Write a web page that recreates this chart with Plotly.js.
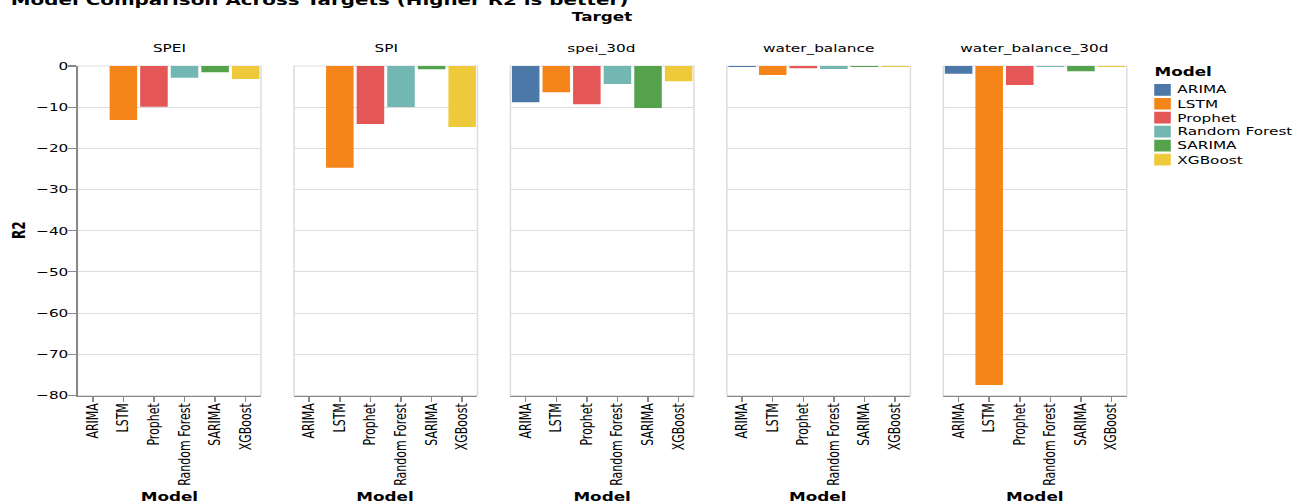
<!DOCTYPE html>
<html>
<head>
<meta charset="utf-8">
<script src="https://cdn.plot.ly/plotly-3.0.1.min.js"></script>
<style>
  html, body { margin: 0; padding: 0; background: #fff; overflow: hidden; }
  #wrap { width: 1293px; height: 504px; overflow: hidden; position: relative; }
  #chart { position: absolute; left: 0; top: 0; transform-origin: 0 0; }
</style>
</head>
<body>
<div id="wrap"><div id="chart"></div></div>
<script>
// ---- data ----
const targets = ["SPEI", "SPI", "spei_30d", "water_balance", "water_balance_30d"];
const models = ["ARIMA", "LSTM", "Prophet", "Random Forest", "SARIMA", "XGBoost"];
const modelColors = ["#4c78a8", "#f58518", "#e45756", "#72b7b2", "#54a24b", "#eeca3b"];
const r2SPEI = [null, -13.1, -9.87, -2.83, -1.54, -3.16];
const r2SPI = [null, -24.68, -14.08, -9.95, -0.81, -14.8];
const r2Spei30d = [-8.82, -6.39, -9.31, -4.37, -10.2, -3.72];
const r2WaterBalance = [-0.15, -2.18, -0.3, -0.73, -0.2, -0.15];
const r2WaterBalance30d = [-1.86, -77.45, -4.61, -0.15, -1.29, -0.1];
const r2ByTarget = [r2SPEI, r2SPI, r2Spei30d, r2WaterBalance, r2WaterBalance30d];
const yTicks = [0, -10, -20, -30, -40, -50, -60, -70, -80];

// ---- page geometry: the chart is laid out at its natural size and stretched to fill the page ----
const SX = 1.529, SY = 1.0983;
const W = 846, H = 459;
const chartDiv = document.getElementById("chart");
chartDiv.style.transform = "scale(" + SX + "," + SY + ")";

// page pixel -> paper fraction
const px = t => t / SX / W;
const py = t => 1 - t / SY / H;

const FONT = "DejaVu Sans";
const panelLeft0 = 77.5, panelStep = 216.45, panelWidth = 183.5;
const plotTop = 66, plotBottom = 395.5;

function label(x, y, text, size, xanchor, extra) {
  return Object.assign({
    xref: "paper", yref: "paper", x: px(x), y: py(y),
    xanchor: xanchor, yanchor: "middle", showarrow: false,
    borderpad: 0, borderwidth: 0,
    text: text, font: { family: FONT, size: size, color: "#000" }
  }, extra || {});
}

const traces = [];
const layout = {
  width: W, height: H,
  margin: { l: 0, r: 0, t: 0, b: 0, pad: 0 },
  paper_bgcolor: "#fff", plot_bgcolor: "#fff",
  showlegend: false,
  bargap: 0.1,
  font: { family: FONT, size: 10, color: "#000" },
  shapes: [], annotations: []
};

targets.forEach((tg, i) => {
  const n = i === 0 ? "" : String(i + 1);
  const L = panelLeft0 + i * panelStep;
  traces.push({
    type: "bar",
    x: models, y: r2ByTarget[i],
    xaxis: "x" + n, yaxis: "y" + n,
    marker: { color: modelColors, line: { width: 0 } },
    hoverinfo: "x+y", name: tg
  });
  layout["xaxis" + n] = {
    domain: [px(L), px(L + panelWidth)],
    anchor: "y" + n,
    type: "category", categoryarray: models, categoryorder: "array",
    range: [-0.5, models.length - 0.5],
    showgrid: false, zeroline: false,
    showline: true, linecolor: "#888", linewidth: 1,
    ticks: "outside", ticklen: 5, tickcolor: "#888", tickwidth: 1,
    ticklabelstandoff: -3,
    tickangle: -90, tickfont: { family: FONT, size: 10, color: "#000" },
    fixedrange: true
  };
  layout["yaxis" + n] = {
    domain: [py(plotBottom), py(plotTop)],
    anchor: "x" + n,
    range: [-80, 0],
    tickvals: yTicks,
    showgrid: true, gridcolor: "#ddd", gridwidth: 1,
    zeroline: false,
    showline: i === 0, linecolor: "#888", linewidth: 1,
    ticks: i === 0 ? "outside" : "", ticklen: 5, tickcolor: "#888", tickwidth: 1,
    ticklabelstandoff: -2,
    showticklabels: i === 0,
    tickfont: { family: FONT, size: 10, color: "#000" },
    fixedrange: true
  };
  if (i > 0) layout["yaxis" + n].matches = "y";

  // panel frame
  layout.shapes.push({
    type: "rect", xref: "x" + n + " domain", yref: "y" + n + " domain",
    x0: 0, x1: 1, y0: 0, y1: 1, layer: "below",
    line: { color: "#ddd", width: 1 }, fillcolor: "rgba(0,0,0,0)"
  });
  // facet header and x axis title
  layout.annotations.push(label(L + panelWidth / 2, 47.8, tg, 10, "center"));
  layout.annotations.push(label(L + panelWidth / 2, 497, "<b>Model</b>", 11, "center"));
});

const lastRight = panelLeft0 + (targets.length - 1) * panelStep + panelWidth;

// chart title, facet title, y title
layout.annotations.push(label(11, 0.5, "<b>Model Comparison Across Targets (Higher R2 is better)</b>", 13, "left"));
layout.annotations.push(label((panelLeft0 + lastRight) / 2, 16.5, "<b>Target</b>", 11, "center"));
layout.annotations.push(label(19.2, (plotTop + plotBottom) / 2, "<b>R2</b>", 11, "center", { textangle: -90 }));

// legend
const legX = 1155, legTextX = 1177.5, legY0 = 89.8, legStep = 13.96;
layout.annotations.push(label(1154, 71.7, "<b>Model</b>", 11, "left"));
models.forEach((m, k) => {
  const cy = legY0 + k * legStep;
  layout.shapes.push({
    type: "rect", xref: "paper", yref: "paper",
    x0: px(legX), x1: px(legX + 15), y0: py(cy + 5.3), y1: py(cy - 5.3),
    fillcolor: modelColors[k], line: { color: modelColors[k], width: 1 }
  });
  layout.annotations.push(label(legTextX, cy, m, 10, "left"));
});

Plotly.newPlot(chartDiv, traces, layout, { displayModeBar: false, responsive: false });
</script>
</body>
</html>
